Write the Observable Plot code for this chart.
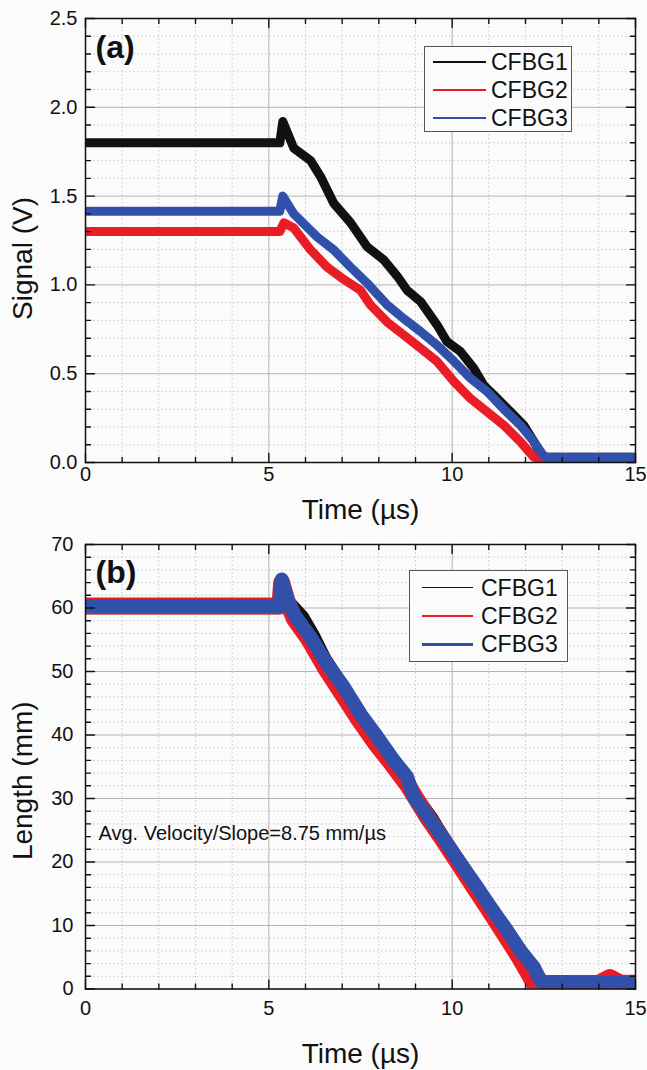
<!DOCTYPE html>
<html>
<head>
<meta charset="utf-8">
<script src="https://cdn.jsdelivr.net/npm/d3@7"></script>
<script src="https://cdn.jsdelivr.net/npm/@observablehq/plot@0.6"></script>
<style>
  body { margin: 0; background: #fbfbfc; font-family: "Liberation Sans", Arial, sans-serif; }
  #wrap { position: relative; width: 647px; height: 1070px; overflow: hidden; }
  .panel { position: absolute; left: 0; }
  .legend { position: absolute; border: 1px solid #555; background: #fbfbfc; box-sizing: border-box; }
  .lg-line { position: absolute; height: 0; }
  .lg-text { position: absolute; font-size: 23px; line-height: 1; color: #111; transform: translateY(-50%); }
</style>
</head>
<body>
<div id="wrap"></div>
<script>
// ---------- data ----------
const seriesNames = ["CFBG1", "CFBG2", "CFBG3"];
const seriesColors = ["#111111", "#ea1d26", "#3050aa"];

const xMajor = [0, 5, 10, 15];
const xMinor = [1, 2, 3, 4, 6, 7, 8, 9, 11, 12, 13, 14];
const aMajor = [0, 0.5, 1.0, 1.5, 2.0, 2.5];
const aMinor = [0.1, 0.2, 0.3, 0.4, 0.6, 0.7, 0.8, 0.9, 1.1, 1.2, 1.3, 1.4, 1.6, 1.7, 1.8, 1.9, 2.1, 2.2, 2.3, 2.4];
const bMajor = [0, 10, 20, 30, 40, 50, 60, 70];
const bMinor = [2, 4, 6, 8, 12, 14, 16, 18, 22, 24, 26, 28, 32, 34, 36, 38, 42, 44, 46, 48, 52, 54, 56, 58, 62, 64, 66, 68];

// Panel (a): Signal (V) vs Time (µs)
const tA1 = [0, 5.3, 5.38, 5.68, 6.14, 6.41, 6.77, 7.23, 7.68, 8.14, 8.5, 8.77, 9.14, 9.59, 9.86, 10.23, 10.59, 10.86, 11.23, 11.59, 11.95, 12.23, 12.41, 12.5, 15];
const vA1 = [1.80, 1.80, 1.92, 1.77, 1.70, 1.61, 1.46, 1.35, 1.215, 1.14, 1.05, 0.97, 0.906, 0.774, 0.68, 0.624, 0.53, 0.436, 0.36, 0.286, 0.21, 0.117, 0.05, 0.03, 0.03];
const tA2 = [0, 5.3, 5.41, 5.68, 6.14, 6.59, 7.05, 7.5, 7.77, 8.23, 8.68, 9.14, 9.59, 10.05, 10.5, 10.95, 11.41, 11.86, 12.23, 12.32, 15];
const vA2 = [1.30, 1.30, 1.35, 1.32, 1.197, 1.10, 1.03, 0.97, 0.887, 0.79, 0.718, 0.643, 0.568, 0.455, 0.36, 0.286, 0.21, 0.117, 0.03, 0.025, 0.025];
const tA3 = [0, 5.3, 5.38, 5.68, 6.32, 6.77, 7.23, 7.68, 8.23, 8.68, 9.14, 9.59, 10.05, 10.5, 10.95, 11.41, 11.86, 12.23, 12.45, 12.55, 15];
const vA3 = [1.415, 1.415, 1.50, 1.40, 1.27, 1.197, 1.10, 1.01, 0.887, 0.81, 0.737, 0.66, 0.57, 0.474, 0.40, 0.30, 0.21, 0.117, 0.05, 0.03, 0.03];

// Panel (b): Length (mm) vs Time (µs)
const tB1 = [0, 5.3, 5.35, 5.5, 5.9, 6.2, 6.5, 7.0, 7.5, 8.0, 8.4, 8.9, 9.4, 9.9, 10.3, 10.7, 11.1, 11.5, 11.9, 12.2, 12.45, 15];
const vB1 = [60.2, 60.2, 63, 61, 58.5, 55.5, 52, 47.5, 43, 39, 35.3, 31, 27, 22.3, 19, 15.5, 11.5, 8.8, 5.5, 3.0, 1.0, 1.0];
const tB2 = [0, 5.3, 5.35, 5.5, 5.7, 6.1, 6.55, 7.0, 7.45, 7.9, 8.35, 8.8, 9.3, 9.75, 10.15, 10.6, 11.0, 11.45, 11.8, 12.15, 12.32, 12.4, 14.0, 14.3, 14.6, 15];
const vB2 = [60.3, 60.3, 64, 61, 58.3, 55, 50.5, 46.5, 42.5, 38.8, 35.5, 32, 27.3, 23.5, 20, 16, 12.5, 8.5, 5.3, 1.8, 0, 0.8, 0.9, 1.8, 0.9, 0.9];
const tB3 = [0, 5.3, 5.35, 5.5, 5.68, 6.14, 6.59, 7.05, 7.5, 7.96, 8.41, 8.77, 8.95, 9.41, 9.86, 10.23, 10.68, 11.05, 11.5, 11.86, 12.23, 12.41, 12.5, 15];
const vB3 = [60.3, 60.3, 64.5, 61.5, 59.1, 55.4, 51.2, 47.5, 43.3, 39.7, 36.0, 33.4, 30.3, 26.6, 22.9, 19.7, 16.05, 12.9, 9.2, 6.05, 3.4, 1.3, 1.0, 1.0];

// ---------- helpers ----------
const toRows = (t, v) => t.map((x, i) => ({t: x, v: v[i]}));
const font = "'Liberation Sans', Arial, sans-serif";
const tickShape = {draw(ctx, l) { ctx.moveTo(0, 0); ctx.lineTo(0, -l); }};

function tickMarks(yMaj, yMin) {
  const st = {stroke: "#111", strokeWidth: 1.4, anchor: "start", shape: tickShape};
  const m = [];
  for (const [vals, len] of [[xMajor, 9], [xMinor, 5]]) {
    m.push(Plot.vector(vals, {x: d => d, frameAnchor: "bottom", rotate: 0, length: len, ...st}));
    m.push(Plot.vector(vals, {x: d => d, frameAnchor: "top", rotate: 180, length: len, ...st}));
  }
  for (const [vals, len] of [[yMaj, 9], [yMin, 5]]) {
    m.push(Plot.vector(vals, {y: d => d, frameAnchor: "left", rotate: 90, length: len, ...st}));
    m.push(Plot.vector(vals, {y: d => d, frameAnchor: "right", rotate: -90, length: len, ...st}));
  }
  return m;
}

function panel(cfg) {
  return Plot.plot({
    width: 647,
    height: cfg.height,
    marginTop: cfg.mt,
    marginBottom: cfg.mb,
    marginLeft: 85,
    marginRight: 12,
    style: {background: "#fbfbfc", fontFamily: font, color: "#111"},
    x: {domain: [0, 15]},
    y: {domain: cfg.yDomain},
    marks: [
      Plot.gridX(xMinor, {stroke: "#c9c9c9", strokeOpacity: 1, strokeDasharray: "1.5,2.5"}),
      Plot.gridY(cfg.yMin, {stroke: "#c9c9c9", strokeOpacity: 1, strokeDasharray: "1.5,2.5"}),
      Plot.gridX(xMajor, {stroke: "#b4b4b4", strokeOpacity: 1}),
      Plot.gridY(cfg.yMaj, {stroke: "#b4b4b4", strokeOpacity: 1}),
      ...cfg.lines.map((rows, i) => Plot.line(rows, {
        x: "t", y: "v", stroke: seriesColors[i], strokeWidth: cfg.widths[i],
        strokeLinejoin: "round", clip: true
      })),
      Plot.axisX({ticks: xMajor, tickSize: 0, tickPadding: cfg.xPad, fontSize: 20, tickFormat: d => String(d), label: null}),
      Plot.axisY({ticks: cfg.yMaj, tickSize: 0, tickPadding: cfg.yPad, fontSize: 20, tickFormat: cfg.yFormat, label: null}),
      ...tickMarks(cfg.yMaj, cfg.yMin),
      Plot.frame({stroke: "#111", strokeWidth: 1.5}),
      Plot.text([cfg.tag], {text: d => d, frameAnchor: "top-left", dx: 10, dy: cfg.tagDy, lineAnchor: "middle", textAnchor: "start", fontSize: 32, fontWeight: "bold", fill: "#111"}),
      Plot.text([cfg.ylabel], {text: d => d, frameAnchor: "left", rotate: -90, dx: -62, dy: cfg.ylDy, lineAnchor: "middle", textAnchor: "middle", fontSize: 28, fill: "#111"}),
      Plot.text(["Time (µs)"], {text: d => d, frameAnchor: "bottom", dy: cfg.xlDy, lineAnchor: "bottom", textAnchor: "middle", fontSize: 28, fill: "#111"}),
      ...(cfg.extra || [])
    ]
  });
}

const wrap = document.getElementById("wrap");

const plotA = panel({
  height: 530, mt: 18, mb: 68,
  yDomain: [0, 2.5], yMaj: aMajor, yMin: aMinor, yFormat: d3.format(".1f"),
  lines: [toRows(tA1, vA1), toRows(tA2, vA2), toRows(tA3, vA3)],
  widths: [9, 9, 9],
  xPad: 4, yPad: 8, tag: "(a)", tagDy: 29, ylabel: "Signal (V)", ylDy: 18, xlDy: 56
});
plotA.classList.add("panel");
plotA.style.top = "0px";
wrap.appendChild(plotA);

const plotB = panel({
  height: 540, mt: 14, mb: 81.5,
  yDomain: [0, 70], yMaj: bMajor, yMin: bMinor, yFormat: d => String(d),
  lines: [toRows(tB1, vB1), toRows(tB2, vB2), toRows(tB3, vB3)],
  widths: [15, 17, 14],
  xPad: 12, yPad: 12, tag: "(b)", tagDy: 28, ylabel: "Length (mm)", ylDy: 14, xlDy: 73.5,
  extra: [Plot.text(["Avg. Velocity/Slope=8.75 mm/µs"], {text: d => d, frameAnchor: "top-left", dx: 13, dy: 289, lineAnchor: "middle", textAnchor: "start", fontSize: 20, fill: "#111"})]
});
plotB.classList.add("panel");
plotB.style.top = "530px";
wrap.appendChild(plotB);

// ---------- legends ----------
function legend(box, rowYs, lineX0, lineX1, textX, lineWidths) {
  const div = document.createElement("div");
  div.className = "legend";
  div.style.left = box[0] + "px";
  div.style.top = box[1] + "px";
  div.style.width = (box[2] - box[0]) + "px";
  div.style.height = (box[3] - box[1]) + "px";
  seriesNames.forEach((name, i) => {
    const ln = document.createElement("div");
    ln.className = "lg-line";
    ln.style.left = (lineX0 - box[0]) + "px";
    ln.style.width = (lineX1 - lineX0) + "px";
    ln.style.top = (rowYs[i] - box[1] - lineWidths[i] / 2 - 1) + "px";
    ln.style.borderTop = lineWidths[i] + "px solid " + seriesColors[i];
    div.appendChild(ln);
    const tx = document.createElement("div");
    tx.className = "lg-text";
    tx.style.left = (textX - box[0]) + "px";
    tx.style.top = (rowYs[i] - box[1] - 1) + "px";
    tx.textContent = name;
    div.appendChild(tx);
  });
  wrap.appendChild(div);
}
legend([424, 46, 572, 132], [62, 90, 118], 432, 485, 490, [2, 2, 2]);
legend([409, 570, 568, 662], [588, 616, 644], 421, 472, 480, [1.5, 2, 3]);
</script>
</body>
</html>
